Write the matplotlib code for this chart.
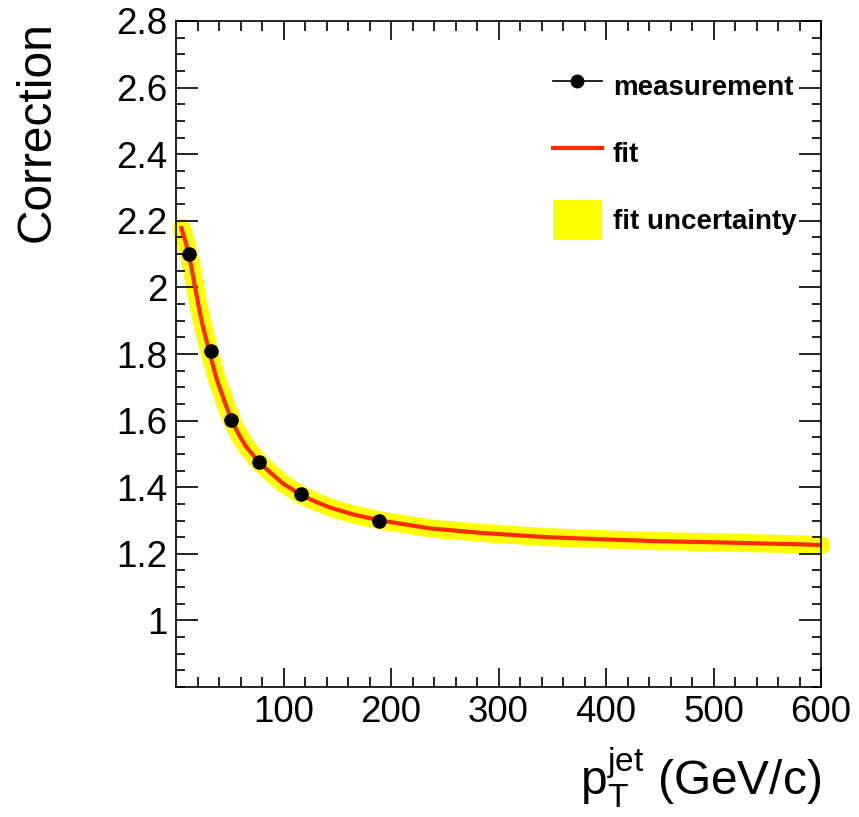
import matplotlib
matplotlib.use("Agg")
import matplotlib.pyplot as plt
from matplotlib.lines import Line2D
from matplotlib.patches import Patch

plt.rcParams["font.family"] = ["Liberation Sans", "DejaVu Sans"]
plt.rcParams["mathtext.fontset"] = "custom"
plt.rcParams["mathtext.rm"] = "Liberation Sans"
plt.rcParams["mathtext.it"] = "Liberation Sans:italic"

# measurement points
meas_x = [12, 33, 51, 77, 116, 189]
meas_y = [2.10, 1.808, 1.602, 1.477, 1.380, 1.300]
meas_err = [0.012, 0.010, 0.008, 0.007, 0.007, 0.008]

# fit curve
fit_x = [5, 8.5, 12, 15, 18, 21, 24, 31, 38, 47, 51, 57, 65, 77, 88, 99, 116,
         130, 144, 165, 190, 237, 283, 345, 401, 447, 509, 586, 600]
fit_y = [2.178, 2.140, 2.098, 2.048, 1.995, 1.943, 1.895, 1.805, 1.722, 1.640,
         1.607, 1.566, 1.522, 1.475, 1.443, 1.412, 1.377, 1.356, 1.338, 1.318,
         1.300, 1.276, 1.263, 1.250, 1.243, 1.238, 1.234, 1.228, 1.226]

x_major = [100, 200, 300, 400, 500, 600]
x_minor = list(range(20, 600, 20))
y_major = [1.0, 1.2, 1.4, 1.6, 1.8, 2.0, 2.2, 2.4, 2.6, 2.8]
y_labels = ["1", "1.2", "1.4", "1.6", "1.8", "2", "2.2", "2.4", "2.6", "2.8"]
y_minor = [0.8 + 0.05 * i for i in range(41)]

labels = ["measurement", "fit", "fit uncertainty"]

RED = "#ff2a00"
YEL = "#ffff00"

fig = plt.figure(figsize=(8.59, 8.17), dpi=100)
ax = fig.add_axes([176 / 859, 1 - 687 / 817, 645 / 859, 666 / 817])

ax.plot(fit_x, fit_y, color=YEL, lw=13, solid_capstyle="round",
        solid_joinstyle="round", zorder=1, clip_on=False)
ax.plot(fit_x, fit_y, color=RED, lw=3, zorder=2, solid_joinstyle="round")
ax.errorbar(meas_x, meas_y, yerr=meas_err, fmt="o", color="black", ms=9.5,
            elinewidth=1.2, capsize=0, zorder=3)

ax.set_xlim(0, 600)
ax.set_ylim(0.8, 2.8)
ax.set_xticks(x_major)
ax.set_xticks(x_minor, minor=True)
ax.set_yticks(y_major)
ax.set_yticklabels(y_labels)
ax.set_yticks(y_minor, minor=True)

ax.tick_params(which="both", direction="in", top=True, right=True, width=1.2,
               labelsize=26.5)
ax.tick_params(axis="y", which="major", length=16, pad=6)
ax.tick_params(axis="y", which="minor", length=6.5)
ax.tick_params(axis="x", which="major", length=14, pad=6)
ax.tick_params(axis="x", which="minor", length=7)
for s in ax.spines.values():
    s.set_linewidth(1.2)

ax.set_ylabel("Correction", fontsize=34.5, loc="top")
ax.yaxis.set_label_coords(-0.18, 1.0)
ax.set_xlabel(r"$\mathrm{p}_{\mathrm{T}}^{\mathrm{jet}}$ (GeV/c)", fontsize=34.5, loc="right")
ax.xaxis.set_label_coords(1.0, -0.087)

handles = [
    Line2D([], [], color="black", marker="o", ms=9, lw=1.2),
    Line2D([], [], color=RED, lw=3),
    Patch(facecolor=YEL, edgecolor="none"),
]
ax.legend(handles, labels, loc="upper left", bbox_to_anchor=(0.584, 0.932),
          frameon=False, prop={"weight": "bold", "size": 20},
          handlelength=1.76, handleheight=1.83, handletextpad=0.4,
          labelspacing=0.98, borderpad=0, borderaxespad=0)

fig.savefig("out.png", dpi=100)
